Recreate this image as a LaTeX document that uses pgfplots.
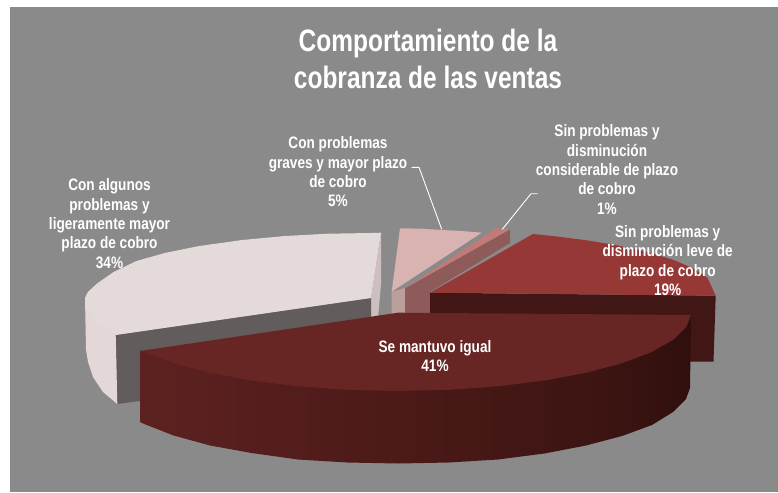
\documentclass[border=0pt]{standalone}
\usepackage{fontspec}
\setmainfont[FakeStretch=0.82]{Liberation Sans}
\newfontfamily\titlefont[FakeStretch=0.79]{Liberation Sans}
\usepackage{pgfplots}
\pgfplotsset{compat=1.18}
\definecolor{bgGray}{HTML}{8A8A8A}
\definecolor{topBig}{HTML}{672624}
\definecolor{topRed}{HTML}{953836}
\definecolor{wallRed}{HTML}{411715}
\definecolor{topOne}{HTML}{C27A78}
\definecolor{wallOne}{HTML}{8E5B5A}
\definecolor{topFive}{HTML}{D9B3B1}
\definecolor{wallFive}{HTML}{BC9E9C}
\definecolor{topPale}{HTML}{E5DADA}
\definecolor{wallPale}{HTML}{E3D7D7}
\definecolor{innerPale}{HTML}{625C5C}
\definecolor{edgePale}{HTML}{CDBFBF}
\definecolor{wA}{HTML}{672624}
\definecolor{wB}{HTML}{622522}
\definecolor{wC}{HTML}{571F1E}
\definecolor{wD}{HTML}{471816}
\definecolor{wE}{HTML}{3B1412}
\definecolor{wF}{HTML}{2A0D0A}
\pgfdeclarehorizontalshading{bigwall}{100bp}{
  color(0bp)=(wA); color(14bp)=(wB); color(33bp)=(wC); color(54bp)=(wD);
  color(68bp)=(wE); color(78bp)=(wF); color(100bp)=(wF)}
\tikzset{lab/.style={text=white,align=center,font=\fontsize{16.6}{19.3}\selectfont\bfseries,inner sep=0pt}}
\begin{document}
\begin{tikzpicture}
\begin{axis}[
    scale only axis,width=778pt,height=492pt,
    xmin=0,xmax=778,ymin=0,ymax=492,y dir=reverse,
    hide axis,clip=false
]
% page and background
\addplot[fill=white,draw=none] coordinates {(0,0) (778,0) (778,492) (0,492)} --cycle;
\addplot[fill=bgGray,draw=none] coordinates {(10,7) (778,7) (778,492) (10,492)} --cycle;

% 34% slice
\addplot[fill=edgePale,draw=none] coordinates {(381,233) (371,298) (371,320) (378,318) (381,284)} --cycle;
\addplot[fill=innerPale,draw=none] coordinates {(115.7,335) (371,298) (371,370) (117.3,404)} --cycle;
\addplot[fill=wallPale,draw=none] coordinates {(85,298) (86,350) (88,362) (93,377) (103,392) (117.3,404) (115.7,335)} --cycle;
\addplot[fill=topPale,draw=none] coordinates {
 (381,232.7) (371,233) (328.1,233.7) (285.2,236) (242.3,240) (199.4,246) (165.1,252.9)
 (136.5,261) (113.6,272) (96.4,284) (87.9,292) (85,298) (88,309.6) (96.4,321) (115.7,335) (371,298)} --cycle;

% 5% slice
\addplot[fill=wallFive,draw=none] coordinates {(391.7,291.7) (405,288) (405,315) (391.7,315)} --cycle;
\addplot[fill=topFive,draw=none] coordinates {(400,228.3) (420,228.6) (441.7,230) (462,231) (481.7,232.7) (391.7,291.7)} --cycle;

% 1% slice
\addplot[fill=wallOne,draw=none] coordinates {(405,288.3) (510,229.3) (510,243) (430,292) (430,315) (405,315)} --cycle;
\addplot[fill=topOne,draw=none] coordinates {(405,288.3) (496,228.3) (510,229.3)} --cycle;

% 19% slice
\addplot[fill=wallRed,draw=none] coordinates {(430,292.7) (715.7,295.7) (713.5,361.7) (430,361.7)} --cycle;
\addplot[fill=topRed,draw=none] coordinates {
 (430,292.7) (533,234) (558.7,236.7) (587.3,240.4) (615.9,245.1) (644.5,251.3) (673.1,259.8)
 (693.1,268.3) (707.4,277.7) (715.7,295.7)} --cycle;

% 41% slice
\addplot[shade,shading=bigwall,draw=none] coordinates {
 (691,315) (690,388) (686,399) (673,412) (652,425) (622,436) (586,445.5) (544.5,453.5)
 (498,459.5) (449,462.5) (398,463.5) (347,462.5) (298,459.5) (251.5,453) (210,445.5)
 (173.6,435.5) (144.3,424) (140,422) (140,351)} --cycle;
\addplot[fill=topBig,draw=none] coordinates {
 (398,312.7) (691,315) (686.6,326.5) (673.3,339.7) (651.7,352) (622.4,363.1) (586.3,372.7)
 (544.5,380.5) (498.2,386.3) (448.9,389.8) (398,391) (347.1,389.8) (297.8,386.3) (251.5,380.5)
 (209.7,372.7) (173.6,363.1) (144.3,352) (140,351)} --cycle;

% leader lines
\addplot[white,line width=0.9pt] coordinates {(411.7,167.3) (419,167.3) (441.7,229.3)};
\addplot[white,line width=0.9pt] coordinates {(537.7,193.7) (531,193.7) (502.3,229.3)};

% texts
\node[lab,font=\titlefont\fontsize{31}{37}\selectfont\bfseries] at (axis cs:428,58.5) {Comportamiento de la\\cobranza de las ventas};
\node[lab] at (axis cs:338,172) {Con problemas\\graves y mayor plazo\\de cobro\\5\%};
\node[lab] at (axis cs:607,169.5) {Sin problemas y\\disminución\\considerable de plazo\\de cobro\\1\%};
\node[lab] at (axis cs:667.7,260.7) {Sin problemas y\\disminución leve de\\plazo de cobro\\19\%};
\node[lab] at (axis cs:109.5,223.5) {Con algunos\\problemas y\\ligeramente mayor\\plazo de cobro\\34\%};
\node[lab] at (axis cs:435,356.3) {Se mantuvo igual\\41\%};
\end{axis}
\end{tikzpicture}
\end{document}
